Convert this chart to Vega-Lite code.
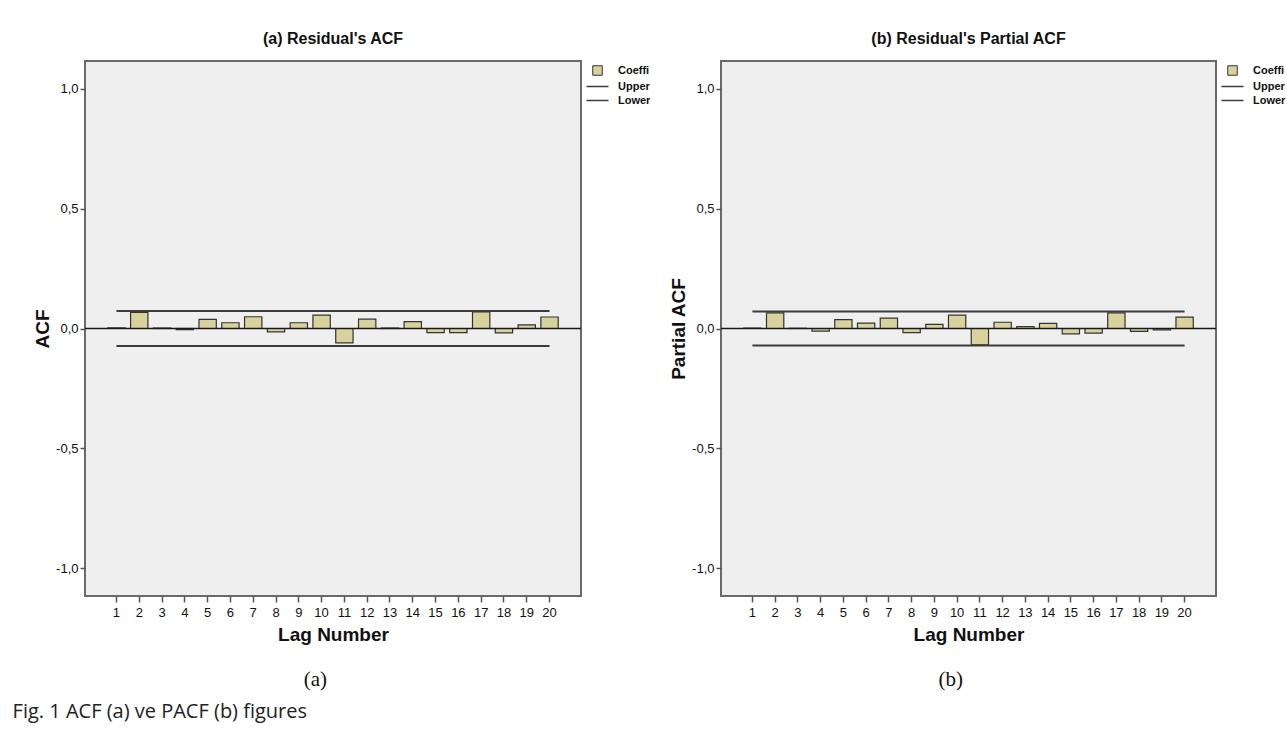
{
  "$schema": "https://vega.github.io/schema/vega-lite/v6.json",
  "background": "white",
  "padding": {"left": 12, "top": 30, "right": 0, "bottom": 6},
  "datasets": {
    "acf": [
      {"lag": 1, "coef": 0.003, "upper": 0.073, "lower": -0.073},
      {"lag": 2, "coef": 0.067, "upper": 0.073, "lower": -0.073},
      {"lag": 3, "coef": 0.002, "upper": 0.073, "lower": -0.073},
      {"lag": 4, "coef": -0.005, "upper": 0.073, "lower": -0.073},
      {"lag": 5, "coef": 0.038, "upper": 0.073, "lower": -0.073},
      {"lag": 6, "coef": 0.024, "upper": 0.073, "lower": -0.073},
      {"lag": 7, "coef": 0.049, "upper": 0.073, "lower": -0.073},
      {"lag": 8, "coef": -0.014, "upper": 0.073, "lower": -0.073},
      {"lag": 9, "coef": 0.024, "upper": 0.073, "lower": -0.073},
      {"lag": 10, "coef": 0.056, "upper": 0.073, "lower": -0.073},
      {"lag": 11, "coef": -0.060, "upper": 0.073, "lower": -0.073},
      {"lag": 12, "coef": 0.039, "upper": 0.073, "lower": -0.073},
      {"lag": 13, "coef": 0.002, "upper": 0.073, "lower": -0.073},
      {"lag": 14, "coef": 0.029, "upper": 0.073, "lower": -0.073},
      {"lag": 15, "coef": -0.017, "upper": 0.073, "lower": -0.073},
      {"lag": 16, "coef": -0.017, "upper": 0.073, "lower": -0.073},
      {"lag": 17, "coef": 0.069, "upper": 0.073, "lower": -0.073},
      {"lag": 18, "coef": -0.018, "upper": 0.073, "lower": -0.073},
      {"lag": 19, "coef": 0.015, "upper": 0.073, "lower": -0.073},
      {"lag": 20, "coef": 0.048, "upper": 0.073, "lower": -0.073}
    ],
    "pacf": [
      {"lag": 1, "coef": 0.002, "upper": 0.071, "lower": -0.071},
      {"lag": 2, "coef": 0.065, "upper": 0.071, "lower": -0.071},
      {"lag": 3, "coef": 0.001, "upper": 0.071, "lower": -0.071},
      {"lag": 4, "coef": -0.011, "upper": 0.071, "lower": -0.071},
      {"lag": 5, "coef": 0.037, "upper": 0.071, "lower": -0.071},
      {"lag": 6, "coef": 0.022, "upper": 0.071, "lower": -0.071},
      {"lag": 7, "coef": 0.043, "upper": 0.071, "lower": -0.071},
      {"lag": 8, "coef": -0.017, "upper": 0.071, "lower": -0.071},
      {"lag": 9, "coef": 0.017, "upper": 0.071, "lower": -0.071},
      {"lag": 10, "coef": 0.056, "upper": 0.071, "lower": -0.071},
      {"lag": 11, "coef": -0.068, "upper": 0.071, "lower": -0.071},
      {"lag": 12, "coef": 0.026, "upper": 0.071, "lower": -0.071},
      {"lag": 13, "coef": 0.008, "upper": 0.071, "lower": -0.071},
      {"lag": 14, "coef": 0.021, "upper": 0.071, "lower": -0.071},
      {"lag": 15, "coef": -0.022, "upper": 0.071, "lower": -0.071},
      {"lag": 16, "coef": -0.019, "upper": 0.071, "lower": -0.071},
      {"lag": 17, "coef": 0.065, "upper": 0.071, "lower": -0.071},
      {"lag": 18, "coef": -0.012, "upper": 0.071, "lower": -0.071},
      {"lag": 19, "coef": -0.006, "upper": 0.071, "lower": -0.071},
      {"lag": 20, "coef": 0.047, "upper": 0.071, "lower": -0.071}
    ]
  },
  "title": {
    "text": "Fig. 1  ACF (a) ve PACF (b) figures",
    "orient": "bottom",
    "anchor": "start",
    "font": "Open Sans",
    "fontSize": 20,
    "fontWeight": "normal",
    "color": "#222",
    "offset": 12,
    "dx": -20
  },
  "spacing": 10,
  "hconcat": [
    {
      "title": {"text": "(a)", "orient": "bottom", "anchor": "middle", "font": "Liberation Serif", "fontSize": 21, "fontWeight": "normal", "color": "#111", "offset": 24, "dx": -30},
      "vconcat": [
        {
          "width": 496,
          "height": 535,
          "data": {"name": "acf"},
          "title": {"text": "(a) Residual's ACF", "frame": "group", "anchor": "middle", "font": "Liberation Sans", "fontSize": 16, "fontWeight": "bold", "color": "#111", "offset": 14},
          "layer": [
            {
              "mark": {"type": "bar", "fill": "#d9d39b", "strokeWidth": 1.2},
              "encoding": {
                "x": {"field": "lag", "type": "ordinal", "title": "Lag Number", "scale": {"paddingInner": 0.24, "paddingOuter": 1.2}},
                "y": {"field": "coef", "type": "quantitative", "title": "ACF", "scale": {"domain": [-1.115, 1.115], "nice": false}, "axis": {"values": [-1, -0.5, 0, 0.5, 1], "format": ".1f"}},
                "stroke": {
                  "datum": "Coefficient",
                  "scale": {"domain": ["Coefficient", "Upper Confidence Limit", "Lower Confidence Limit"], "range": ["#333333", "#3c3c3c", "#3c3c3c"]},
                  "legend": {"title": null, "symbolType": "stroke", "symbolSize": 81, "symbolStrokeWidth": 1.5, "encode": {"symbols": {"update": {"shape": {"signal": "datum.value === 'Coefficient' ? 'square' : 'stroke'"}, "fill": {"signal": "datum.value === 'Coefficient' ? '#d9d39b' : 'transparent'"}, "size": {"signal": "datum.value === 'Coefficient' ? 90 : 484"}, "strokeWidth": {"signal": "datum.value === 'Coefficient' ? 1 : 1.5"}}}, "labels": {"update": {"ellipsis": {"value": "\u200b"}}}}}
                }
              }
            },
            {
              "mark": {"type": "line", "strokeWidth": 2},
              "encoding": {
                "x": {"field": "lag", "type": "ordinal"},
                "y": {"field": "upper", "type": "quantitative"},
                "stroke": {
                  "datum": "Upper Confidence Limit",
                  "legend": {"title": null, "symbolType": "stroke", "symbolSize": 81, "symbolStrokeWidth": 1.5, "encode": {"symbols": {"update": {"shape": {"signal": "datum.value === 'Coefficient' ? 'square' : 'stroke'"}, "fill": {"signal": "datum.value === 'Coefficient' ? '#d9d39b' : 'transparent'"}, "size": {"signal": "datum.value === 'Coefficient' ? 90 : 484"}, "strokeWidth": {"signal": "datum.value === 'Coefficient' ? 1 : 1.5"}}}, "labels": {"update": {"ellipsis": {"value": "\u200b"}}}}}
                }
              }
            },
            {
              "mark": {"type": "line", "strokeWidth": 2},
              "encoding": {
                "x": {"field": "lag", "type": "ordinal"},
                "y": {"field": "lower", "type": "quantitative"},
                "stroke": {
                  "datum": "Lower Confidence Limit",
                  "legend": {"title": null, "symbolType": "stroke", "symbolSize": 81, "symbolStrokeWidth": 1.5, "encode": {"symbols": {"update": {"shape": {"signal": "datum.value === 'Coefficient' ? 'square' : 'stroke'"}, "fill": {"signal": "datum.value === 'Coefficient' ? '#d9d39b' : 'transparent'"}, "size": {"signal": "datum.value === 'Coefficient' ? 90 : 484"}, "strokeWidth": {"signal": "datum.value === 'Coefficient' ? 1 : 1.5"}}}, "labels": {"update": {"ellipsis": {"value": "\u200b"}}}}}
                }
              }
            },
            {
              "data": {"values": [{"zero": 0}]},
              "mark": {"type": "rule", "color": "#1a1a1a", "strokeWidth": 1.5},
              "encoding": {"y": {"field": "zero", "type": "quantitative"}}
            }
          ]
        }
      ]
    },
    {
      "title": {"text": "(b)", "orient": "bottom", "anchor": "middle", "font": "Liberation Serif", "fontSize": 21, "fontWeight": "normal", "color": "#111", "offset": 24, "dx": -30},
      "vconcat": [
        {
          "width": 495,
          "height": 535,
          "data": {"name": "pacf"},
          "title": {"text": "(b) Residual's Partial ACF", "frame": "group", "anchor": "middle", "font": "Liberation Sans", "fontSize": 16, "fontWeight": "bold", "color": "#111", "offset": 14},
          "layer": [
            {
              "mark": {"type": "bar", "fill": "#d9d39b", "strokeWidth": 1.2},
              "encoding": {
                "x": {"field": "lag", "type": "ordinal", "title": "Lag Number", "scale": {"paddingInner": 0.24, "paddingOuter": 1.2}},
                "y": {"field": "coef", "type": "quantitative", "title": "Partial ACF", "scale": {"domain": [-1.115, 1.115], "nice": false}, "axis": {"values": [-1, -0.5, 0, 0.5, 1], "format": ".1f"}},
                "stroke": {
                  "datum": "Coefficient",
                  "scale": {"domain": ["Coefficient", "Upper Confidence Limit", "Lower Confidence Limit"], "range": ["#333333", "#3c3c3c", "#3c3c3c"]},
                  "legend": {"title": null, "symbolType": "stroke", "symbolSize": 81, "symbolStrokeWidth": 1.5, "encode": {"symbols": {"update": {"shape": {"signal": "datum.value === 'Coefficient' ? 'square' : 'stroke'"}, "fill": {"signal": "datum.value === 'Coefficient' ? '#d9d39b' : 'transparent'"}, "size": {"signal": "datum.value === 'Coefficient' ? 90 : 484"}, "strokeWidth": {"signal": "datum.value === 'Coefficient' ? 1 : 1.5"}}}, "labels": {"update": {"ellipsis": {"value": "\u200b"}}}}}
                }
              }
            },
            {
              "mark": {"type": "line", "strokeWidth": 2},
              "encoding": {
                "x": {"field": "lag", "type": "ordinal"},
                "y": {"field": "upper", "type": "quantitative"},
                "stroke": {
                  "datum": "Upper Confidence Limit",
                  "legend": {"title": null, "symbolType": "stroke", "symbolSize": 81, "symbolStrokeWidth": 1.5, "encode": {"symbols": {"update": {"shape": {"signal": "datum.value === 'Coefficient' ? 'square' : 'stroke'"}, "fill": {"signal": "datum.value === 'Coefficient' ? '#d9d39b' : 'transparent'"}, "size": {"signal": "datum.value === 'Coefficient' ? 90 : 484"}, "strokeWidth": {"signal": "datum.value === 'Coefficient' ? 1 : 1.5"}}}, "labels": {"update": {"ellipsis": {"value": "\u200b"}}}}}
                }
              }
            },
            {
              "mark": {"type": "line", "strokeWidth": 2},
              "encoding": {
                "x": {"field": "lag", "type": "ordinal"},
                "y": {"field": "lower", "type": "quantitative"},
                "stroke": {
                  "datum": "Lower Confidence Limit",
                  "legend": {"title": null, "symbolType": "stroke", "symbolSize": 81, "symbolStrokeWidth": 1.5, "encode": {"symbols": {"update": {"shape": {"signal": "datum.value === 'Coefficient' ? 'square' : 'stroke'"}, "fill": {"signal": "datum.value === 'Coefficient' ? '#d9d39b' : 'transparent'"}, "size": {"signal": "datum.value === 'Coefficient' ? 90 : 484"}, "strokeWidth": {"signal": "datum.value === 'Coefficient' ? 1 : 1.5"}}}, "labels": {"update": {"ellipsis": {"value": "\u200b"}}}}}
                }
              }
            },
            {
              "data": {"values": [{"zero": 0}]},
              "mark": {"type": "rule", "color": "#1a1a1a", "strokeWidth": 1.5},
              "encoding": {"y": {"field": "zero", "type": "quantitative"}}
            }
          ]
        }
      ]
    }
  ],
  "resolve": {"scale": {"stroke": "independent"}},
  "config": {
    "locale": {"number": {"decimal": ",", "thousands": ".", "grouping": [3], "currency": ["", ""], "minus": "-"}},
    "view": {"fill": "#efefef", "stroke": "#6a6a6a", "strokeWidth": 2},
    "axis": {
      "grid": false,
      "domain": false,
      "labelFont": "Liberation Sans",
      "labelFontSize": 13,
      "labelColor": "#111",
      "tickColor": "#555",
      "tickWidth": 1.5,
      "titleFont": "Liberation Sans",
      "titleFontSize": 19,
      "titleFontWeight": "bold",
      "titleColor": "#111"
    },
    "axisY": {"tickSize": 5, "labelPadding": 2, "titlePadding": 3},
    "axisX": {"labelAngle": 0, "tickSize": 6, "labelPadding": 4, "titlePadding": 6},
    "legend": {
      "orient": "right",
      "offset": 5,
      "labelFont": "Liberation Sans",
      "labelFontSize": 11,
      "labelFontWeight": "bold",
      "labelColor": "#111",
      "labelLimit": 36,
      "labelOffset": 15,
      "rowPadding": 2,
      "padding": 4
    }
  }
}
